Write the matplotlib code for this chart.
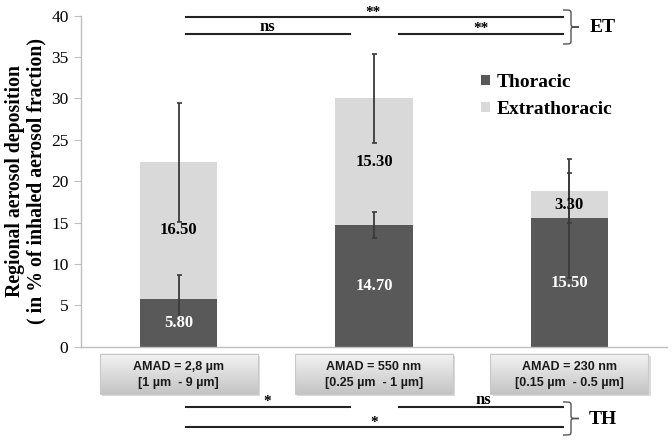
import matplotlib
matplotlib.use("Agg")
import matplotlib.pyplot as plt
import numpy as np
from matplotlib.patches import Patch, Rectangle, PathPatch
from matplotlib.path import Path
from matplotlib.colors import LinearSegmentedColormap

# ---- data ----
categories = ["AMAD = 2,8 µm\n[1 µm  - 9 µm]",
              "AMAD = 550 nm\n[0.25 µm  - 1 µm]",
              "AMAD = 230 nm\n[0.15 µm  - 0.5 µm]"]
thoracic = [5.80, 14.70, 15.50]
extrathoracic = [16.50, 15.30, 3.30]
thoracic_err_low = [2.9, 1.6, 7.2]
thoracic_err_high = [2.9, 1.6, 5.5]
extra_err = [7.2, 5.4, 3.9]
yticks = [0, 5, 10, 15, 20, 25, 30, 35, 40]

SERIF = "Liberation Serif"
SANS = "Liberation Sans"
DARK = "#595959"
LIGHT = "#d9d9d9"
W, H = 672, 441

fig = plt.figure(figsize=(6.72, 4.41), dpi=100)
ax = fig.add_axes([81 / W, 1 - 346.7 / H, (667 - 81) / W, (346.7 - 15.7) / H])

x = np.arange(len(categories))
bw = 0.395
ax.bar(x, thoracic, bw, color=DARK, zorder=2)
ax.bar(x, extrathoracic, bw, bottom=thoracic, color=LIGHT, zorder=2)

tot = np.array(thoracic) + np.array(extrathoracic)
ax.errorbar(x, tot, yerr=extra_err, fmt="none", ecolor="#3a3a3a", elinewidth=1.3,
            capsize=1.8, capthick=1.2, zorder=3)
ax.errorbar(x, thoracic, yerr=[thoracic_err_low, thoracic_err_high], fmt="none",
            ecolor="#3a3a3a", elinewidth=1.3, capsize=1.8, capthick=1.2, zorder=3)

for i in range(len(x)):
    ax.text(x[i], thoracic[i] / 2, f"{thoracic[i]:.2f}", ha="center", va="center",
            color="white", fontsize=12, fontweight="bold", family=SERIF, zorder=4)
    ax.text(x[i], thoracic[i] + extrathoracic[i] / 2, f"{extrathoracic[i]:.2f}",
            ha="center", va="center", color="black", fontsize=12, fontweight="bold",
            family=SERIF, zorder=4)

ax.set_xlim(-0.5, 2.5)
ax.set_ylim(0, 40)
ax.set_yticks(yticks)
ax.set_yticklabels([str(v) for v in yticks], family=SERIF, fontsize=12.5)
ax.set_xticks([])
for s in ["top", "right"]:
    ax.spines[s].set_visible(False)
for s in ["left", "bottom"]:
    ax.spines[s].set_color("#bfbfbf")
    ax.spines[s].set_linewidth(1.0)
ax.tick_params(axis="y", direction="out", length=5, color="#bfbfbf", pad=4)

ax.set_ylabel("Regional aerosol deposition\n( in % of inhaled aerosol fraction)",
              family=SERIF, fontsize=14.2, fontweight="bold", linespacing=1.1, labelpad=3)

# category label boxes (gradient)
grad = np.linspace(0, 1, 64).reshape(-1, 1)
cmap = LinearSegmentedColormap.from_list("g", ["#f4f4f4", "#c4c4c4"])
bwbox = 0.81
for i, lab in enumerate(categories):
    x0, x1 = x[i] - bwbox / 2, x[i] + bwbox / 2
    y0, y1 = -0.9, -5.75
    sh = Rectangle((x0 + 0.012, y1 - 0.25), bwbox, y0 - y1, facecolor="#dcdcdc",
                   edgecolor="none", clip_on=False, zorder=1)
    ax.add_patch(sh)
    ax.imshow(grad, extent=[x0, x1, y1, y0], cmap=cmap, aspect="auto",
              clip_on=False, zorder=2, interpolation="bilinear")
    ax.add_patch(Rectangle((x0, y1), bwbox, y0 - y1, facecolor="none",
                           edgecolor="#c8c8c8", lw=0.8, clip_on=False, zorder=3))
    ax.text(x[i], (y0 + y1) / 2 - 0.05, lab, ha="center", va="center", family=SANS,
            fontsize=9, fontweight="bold", color="#1a1a1a", linespacing=1.45,
            clip_on=False, zorder=4)
ax.set_xlim(-0.5, 2.5)
ax.set_ylim(0, 40)

# significance lines
def hline(xa, xb, y):
    ax.plot([xa, xb], [y, y], color="#222222", lw=1.5, clip_on=False, zorder=5)

def lab(xc, y, s, fs):
    ax.text(xc, y, s, ha="center", va="center", family=SERIF, fontsize=fs,
            fontweight="bold", clip_on=False)

xa, xm1, xm2, xb = 0.04, 0.877, 1.128, 1.968
hline(xa, xb, 39.85)
lab(0.995, 40.4, "**", 11)
hline(xa, xm1, 37.8)
lab(0.455, 38.6, "ns", 12)
hline(xm2, xb, 37.8)
lab(1.55, 38.5, "**", 11)

hline(xa, xm1, -7.25)
lab(0.455, -6.6, "*", 11)
hline(xm2, xb, -7.25)
lab(1.56, -6.4, "ns", 12)
hline(xa, xb, -9.7)
lab(1.0, -9.1, "*", 11)

# braces in figure pixel coords
def px(xp, yp):
    return (xp / W, 1 - yp / H)

def brace(x0, yt, yb, w):
    ym = (yt + yb) / 2
    xc = x0 + w * 0.5
    q = 4
    pts = [(x0, yt), (xc, yt), (xc, yt), (xc, yt + q), (xc, ym - q), (xc, ym), (xc, ym),
           (x0 + w, ym), (xc, ym), (xc, ym), (xc, ym + q), (xc, yb - q), (xc, yb),
           (xc, yb), (x0, yb)]
    codes = [Path.MOVETO, Path.CURVE4, Path.CURVE4, Path.CURVE4, Path.LINETO,
             Path.CURVE4, Path.CURVE4, Path.CURVE4, Path.CURVE4, Path.CURVE4,
             Path.CURVE4, Path.LINETO, Path.CURVE4, Path.CURVE4, Path.CURVE4]
    path = Path([px(*p) for p in pts], codes)
    fig.patches.append(PathPatch(path, transform=fig.transFigure, facecolor="none",
                                 edgecolor="#555555", lw=1.0))

brace(563, 10, 44, 16)
brace(563, 402, 435, 16)
fig.text(*px(603, 27), "ET", ha="center", va="center", family=SERIF, fontsize=14,
         fontweight="bold")
fig.text(*px(603, 419), "TH", ha="center", va="center", family=SERIF, fontsize=14,
         fontweight="bold")

# legend
handles = [Patch(facecolor=DARK, edgecolor="none", label="Thoracic"),
           Patch(facecolor=LIGHT, edgecolor="none", label="Extrathoracic")]
fig.legend(handles=handles, loc="upper left", bbox_to_anchor=px(481, 74), frameon=False,
           prop={"family": SERIF, "size": 14, "weight": "bold"}, handlelength=0.45,
           handleheight=0.45, handletextpad=0.37, labelspacing=0.5, borderaxespad=0,
           borderpad=0)

fig.savefig("out.png", dpi=100)
